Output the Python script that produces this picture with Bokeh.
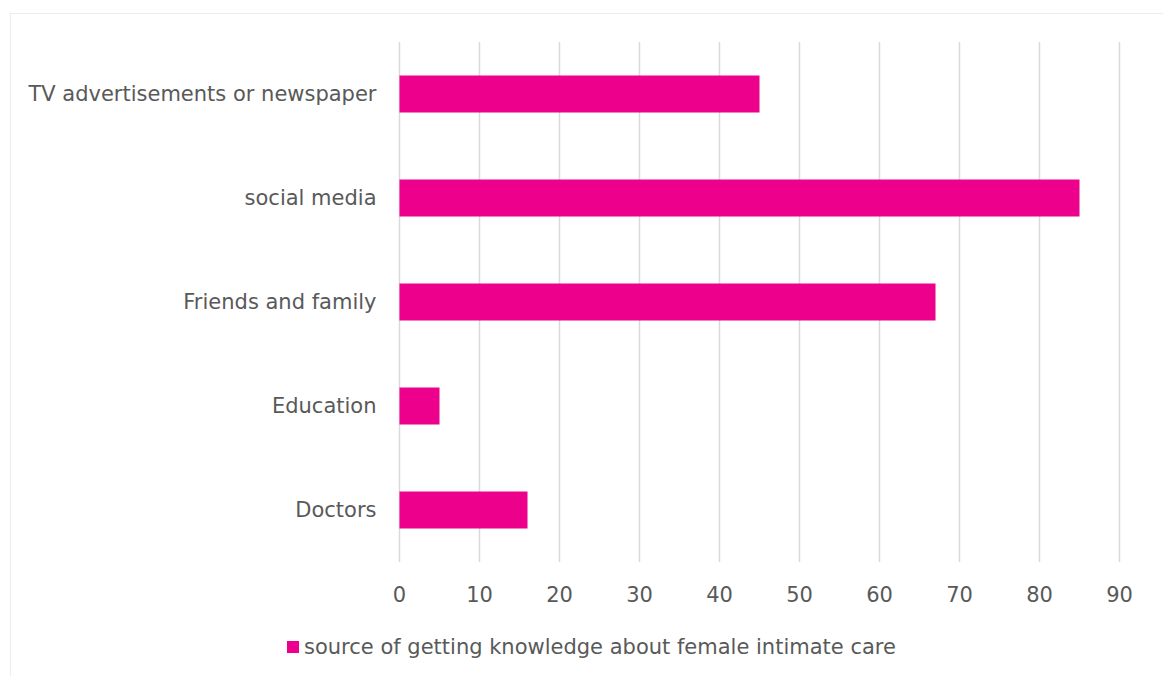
from bokeh.plotting import figure
from bokeh.models import Range1d, Legend, LegendItem, ColumnDataSource
from bokeh.core.properties import value
from bokeh.embed import file_html
from bokeh.resources import INLINE

categories = ["TV advertisements or newspaper", "social media", "Friends and family", "Education", "Doctors"]
values = [45, 85, 67, 5, 16]
x_ticks = [0, 10, 20, 30, 40, 50, 60, 70, 80, 90]
series_name = "source of getting knowledge about female intimate care"

FONT = "DejaVu Sans"
TXT = "#595959"
BAR = "#EC008C"
GRID = "#d9d9d9"
FS = "21px"

n = len(categories)
# bottom category (Doctors) at position 0, top category at n-1
pos = [n - 1 - i for i in range(n)]
src = ColumnDataSource(dict(cat=categories, val=values, pos=pos))
tick_src = ColumnDataSource(dict(x=x_ticks, lab=[str(t) for t in x_ticks]))

W, H = 1153, 664
ZERO_PX, PX_PER_UNIT = 389, 8
SLOT, FIRST_CENTER = 104, 496.5

p = figure(width=W, height=H, output_backend="svg", toolbar_location=None,
           x_axis_location=None, y_axis_location=None,
           x_range=Range1d(-ZERO_PX / PX_PER_UNIT, (W - ZERO_PX) / PX_PER_UNIT),
           y_range=Range1d(-(H - FIRST_CENTER) / SLOT, FIRST_CENTER / SLOT),
           min_border=0, min_border_left=0, min_border_right=0, min_border_top=0, min_border_bottom=0,
           margin=(13, 0, 0, 10),
           styles={"outline": "1px solid #d9d9d9", "outline-offset": "-1px"})
p.outline_line_color = None
p.background_fill_color = "white"
p.border_fill_color = "white"
p.grid.visible = False

lo, hi = -0.5, n - 0.5
p.segment(x0="x", x1="x", y0=lo, y1=hi, source=tick_src, line_color=GRID, line_width=1.5)

r = p.hbar(y="pos", right="val", left=0, height=0.356, source=src, fill_color=BAR, line_color=None)

p.text(x=0, y="pos", text="cat", source=src, x_offset=-23,
       text_align="right", text_baseline="middle",
       text_font=value(FONT), text_font_size=FS, text_color=TXT)

p.text(x="x", y=lo, text="lab", source=tick_src, y_offset=32,
       text_align="center", text_baseline="middle",
       text_font=value(FONT), text_font_size=FS, text_color=TXT)

legend = Legend(items=[LegendItem(label=series_name, renderers=[r])],
                location=(275, 18), orientation="horizontal",
                label_text_font=FONT, label_text_font_size=FS, label_text_color=TXT,
                glyph_width=15, glyph_height=15, label_height=25, border_line_color=None,
                background_fill_alpha=0, padding=0, margin=0, label_standoff=4)
p.add_layout(legend)

open("out.html", "w").write(file_html(p, INLINE))
